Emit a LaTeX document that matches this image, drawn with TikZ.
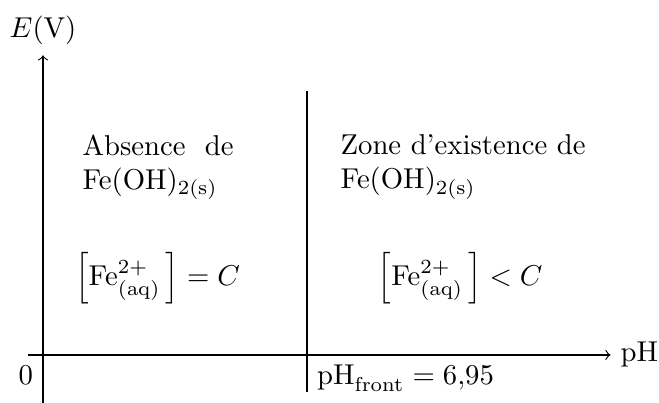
\documentclass[tikz,border=0pt]{standalone}
\usepackage{amsmath}
\usepackage{tikz}

\begin{document}
\begin{tikzpicture}[
    axis/.style={->},
    front/.style={thick},
    zone/.style={anchor=north west, align=justify},
    conc/.style={anchor=center}
]
  \useasboundingbox (-0.527,-0.588) rectangle (7.543,4.347);

  % Axes
  \coordinate (O) at (0,0);
  \coordinate (xs) at (-0.18,0);
  \coordinate (ys) at (0,-0.59);
  \node[right] (xt) at (6.95,0) {pH};
  \node[above] (yt) at (0,3.67) {$E$(V)};
  \draw[axis] (xs) -- (xt.west);
  \draw[axis] (ys) -- (yt.south);
  \node[below left] (zero) at (O) {0};

  % Frontier
  \coordinate (ftop) at (3.233,3.23);
  \coordinate (fbot) at (3.233,-0.455);
  \draw[front] (ftop) -- (fbot);
  \node[below right] (pf) at (3.233,0) {$\mathrm{pH}_{\mathrm{front}} = 6{,}95$};

  % Zones
  \node[zone, text width=1.85cm] (abs) at (0.36,2.823)
    {Absence de Fe(OH)$_{2\mathrm{(s)}}$};
  \node[zone, text width=3cm] (exi) at (3.52,2.823)
    {Zone d'existence de Fe(OH)$_{2\mathrm{(s)}}$};

  \node[conc] (ceq) at (1.402,0.937)
    {$\left[\mathrm{Fe}^{2+}_{\mathrm{(aq)}}\,\right] = C$};
  \node[conc] (clt) at (5.107,0.937)
    {$\left[\mathrm{Fe}^{2+}_{\mathrm{(aq)}}\,\right] < C$};
\end{tikzpicture}
\end{document}
